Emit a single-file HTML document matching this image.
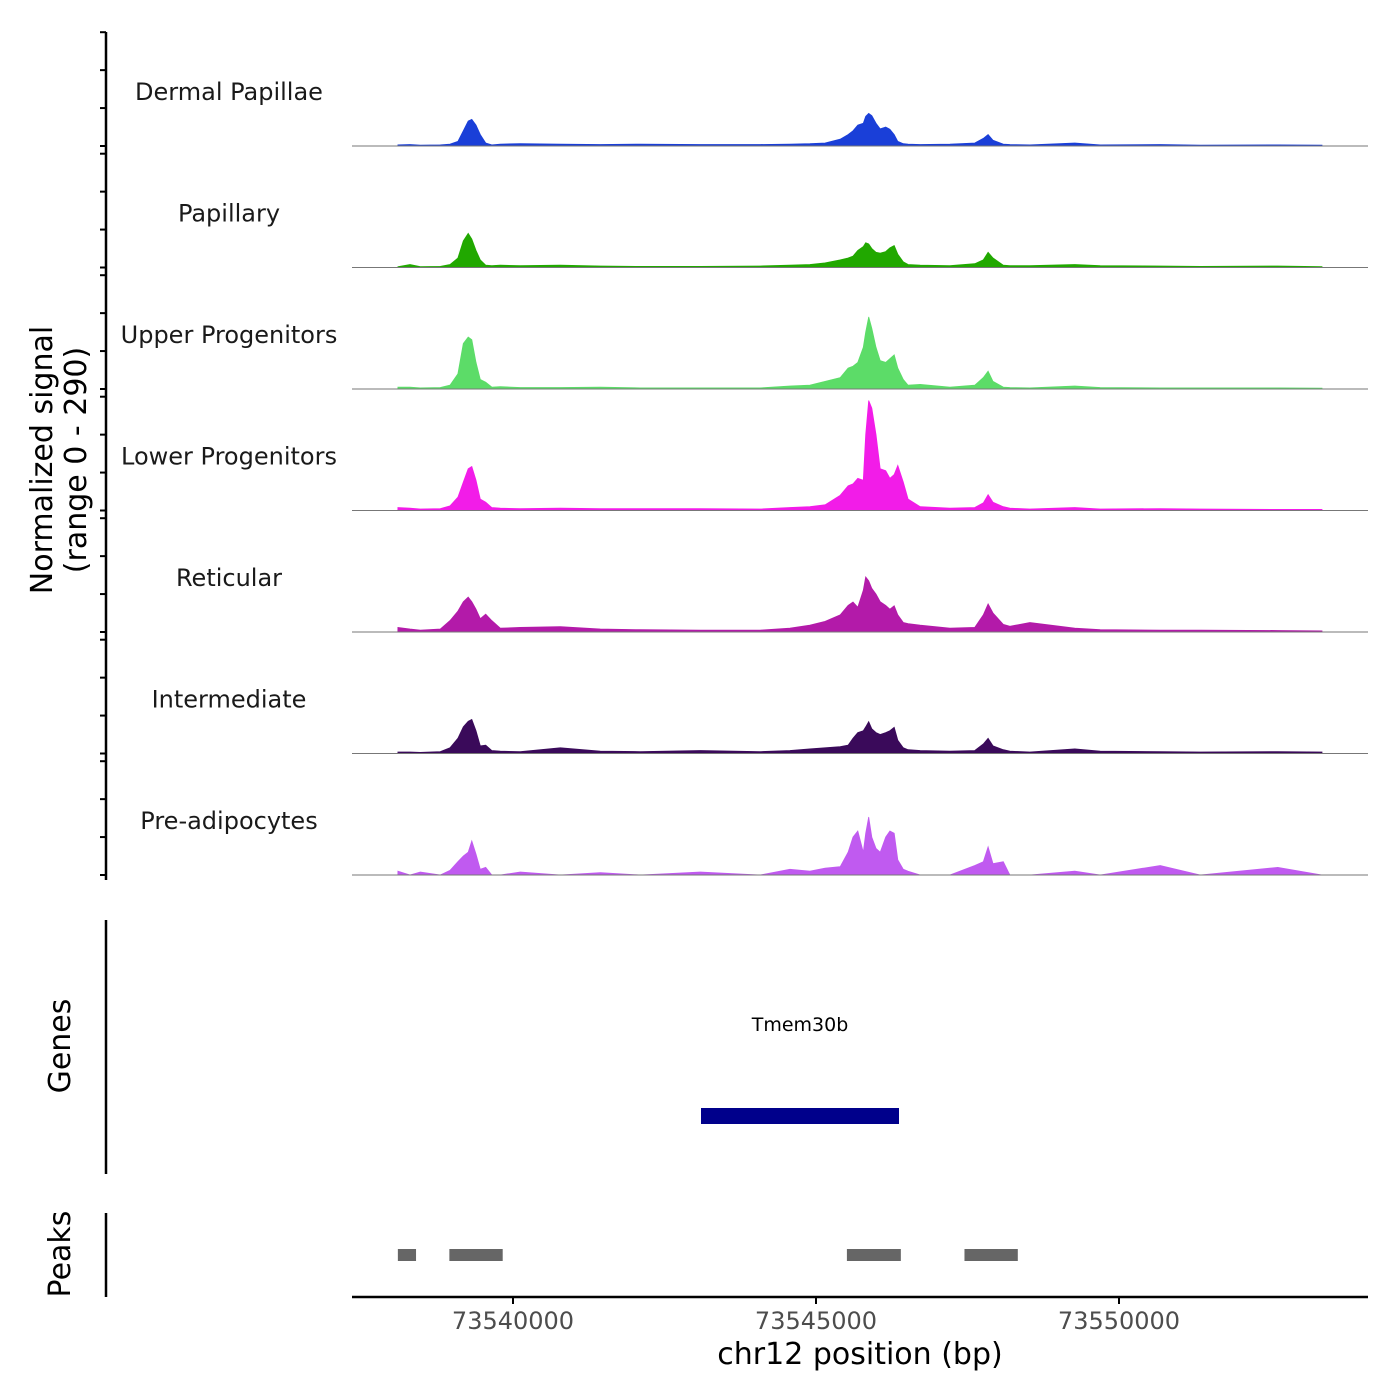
<!DOCTYPE html>
<html><head><meta charset="utf-8"><style>
html,body{margin:0;padding:0;background:#fff;}
svg{display:block;font-family:"DejaVu Sans","Liberation Sans",sans-serif;}
</style></head><body>
<svg id="chart" width="1400" height="1400" viewBox="0 0 1400 1400" xmlns="http://www.w3.org/2000/svg">
<g id="tracks"></g>
<g id="genes">
  <line x1="106" y1="920" x2="106" y2="1174" stroke="#000" stroke-width="2.5"/>
  <text x="0" y="0" transform="translate(70,1046) rotate(-90)" text-anchor="middle" font-size="30" fill="#000">Genes</text>
  <text x="800" y="1031" text-anchor="middle" font-size="19" fill="#000">Tmem30b</text>
  <rect x="701" y="1108" width="198" height="16" fill="#00008b"/>
</g>
<g id="peaks">
  <line x1="106" y1="1213" x2="106" y2="1297" stroke="#000" stroke-width="2.5"/>
  <text x="0" y="0" transform="translate(70,1254) rotate(-90)" text-anchor="middle" font-size="30" fill="#000">Peaks</text>
</g>
<g id="xaxis">
  <line x1="352" y1="1297" x2="1368" y2="1297" stroke="#000" stroke-width="2.5"/>
  <text x="860" y="1364" text-anchor="middle" font-size="30" fill="#000">chr12 position (bp)</text>
</g>
<text x="0" y="0" transform="translate(52,460) rotate(-90)" text-anchor="middle" font-size="30" fill="#000"><tspan x="0" dy="0">Normalized signal</tspan><tspan x="0" dy="34">(range 0 - 290)</tspan></text>
</svg>
<script>
const trackNames = ["Dermal Papillae","Papillary","Upper Progenitors","Lower Progenitors","Reticular","Intermediate","Pre-adipocytes"];
const trackColors = ["#1a3fd8","#21a800","#5cdc68","#f21ce8","#b31aa9","#3a0a5a","#c05af0"];
const positions = [73538100,73538300,73538470,73538800,73538960,73539090,73539180,73539260,73539320,73539390,73539460,73539550,73539650,73539790,73540120,73540780,73541440,73542100,73543090,73544080,73544570,73544900,73545150,73545400,73545530,73545610,73545690,73545780,73545820,73545870,73545920,73545990,73546060,73546150,73546220,73546290,73546350,73546440,73546520,73546720,73547210,73547620,73547760,73547840,73547920,73548090,73548200,73548530,73549270,73549690,73550680,73551340,73552620,73553350];
const dermalPapillae = [3,4,2,3,5,12,40,66,70,55,30,8,3,5,6,5,4,5,4,4,5,6,8,18,30,40,55,60,78,86,80,60,45,50,44,30,12,6,5,4,5,8,20,30,15,5,4,3,8,3,4,2,3,2];
const papillary = [2,8,2,3,8,25,70,90,75,45,20,6,5,6,5,6,4,3,3,4,6,8,12,20,25,30,45,55,65,62,50,40,38,42,52,58,35,15,8,6,5,10,20,40,25,6,5,5,8,5,4,3,4,2];
const upperProgenitors = [5,5,3,4,10,40,120,137,130,70,25,18,5,6,4,4,5,3,3,3,8,10,20,30,55,60,70,110,150,190,160,110,75,70,80,90,55,25,10,12,5,10,30,47,20,5,4,3,8,4,3,3,3,2];
const lowerProgenitors = [8,6,4,5,12,35,75,110,116,80,30,22,8,6,5,6,5,5,5,4,8,10,15,40,65,70,85,80,200,290,270,200,110,105,85,95,119,75,30,10,6,8,20,42,22,10,6,4,8,4,5,4,3,3];
const reticular = [12,8,5,8,30,55,80,92,80,60,35,47,30,10,12,14,8,6,5,5,10,18,28,45,70,79,65,110,145,135,115,100,80,70,60,69,45,25,22,18,10,12,45,74,50,20,15,25,10,6,5,5,4,3];
const intermediate = [4,4,3,5,15,40,70,85,90,60,20,22,8,6,5,15,6,5,8,5,8,12,15,18,22,40,55,60,70,84,65,55,50,55,60,69,35,15,10,8,6,8,25,40,20,10,6,4,12,6,5,4,5,4];
const preAdipocytes = [10,0,8,0,12,35,50,60,90,55,15,20,0,0,8,0,6,0,8,0,15,10,18,22,60,100,116,60,110,153,100,70,60,100,116,110,40,15,10,0,0,25,35,74,30,35,0,0,10,0,25,0,20,0];
const trackValues = [dermalPapillae,papillary,upperProgenitors,lowerProgenitors,reticular,intermediate,preAdipocytes];
const xTicks = [73540000,73545000,73550000];
const yTicks = [0,100,200,300];
const peakStarts = [73538100,73538950,73545510,73547450];
const peakEnds = [73538400,73539830,73546400,73548330];

const NS="http://www.w3.org/2000/svg";
const xScale = bp => 513 + (bp - 73540000) * 303 / 5000;
const baseline0 = 146, trackStep = 121.5;
const yUnit = 110/290;
const yScale = (v,i) => baseline0 + i*trackStep - v*yUnit;
function mk(tag, attrs, parent){const e=document.createElementNS(NS,tag);for(const k in attrs)e.setAttribute(k,attrs[k]);parent.appendChild(e);return e;}
const tg=document.getElementById('tracks');
const yl=mk('line',{x1:106,y1:32,x2:106,y2:880,stroke:'#000','stroke-width':2.5},tg);


trackValues.forEach((vals,i)=>{
  const g=mk('g',{},tg);
  
  
  const base=yScale(0,i);
  yTicks.forEach(t=>{
    const tk=mk('line',{x1:100,x2:106,y1:yScale(t,i),y2:yScale(t,i),stroke:'#000','stroke-width':2},g);
    
    
  });
  const lbl=mk('text',{x:229,y:base-46,'text-anchor':'middle','font-size':24,fill:'#1a1a1a'},g);
  lbl.textContent=trackNames[i];
  
  
  let d='M'+xScale(positions[0])+','+base;
  positions.forEach((p,j)=>{d+=' L'+xScale(p).toFixed(1)+','+yScale(vals[j],i).toFixed(1);});
  d+=' L'+xScale(positions[positions.length-1])+','+base+' Z';
  const area=mk('path',{d:d,fill:trackColors[i],stroke:trackColors[i],'stroke-width':0.8},g);
  
  
  const bl=mk('line',{x1:352,x2:1368,y1:base,y2:base,stroke:'#777','stroke-width':1},g);
  
  
});
const pg=document.getElementById('peaks');
peakStarts.forEach((s,i)=>{
  const r=mk('rect',{x:xScale(s),y:1249,width:xScale(peakEnds[i])-xScale(s),height:12,fill:'#666'},pg);
  
  
});
const xg=document.getElementById('xaxis');
xTicks.forEach(t=>{
  const l=mk('line',{x1:xScale(t),x2:xScale(t),y1:1297,y2:1304,stroke:'#000','stroke-width':2},xg);
  
  
  const tx=mk('text',{x:xScale(t),y:1329,'text-anchor':'middle','font-size':24,fill:'#4d4d4d'},xg);
  tx.textContent=String(t);
  
  
});
</script>
</body></html>
